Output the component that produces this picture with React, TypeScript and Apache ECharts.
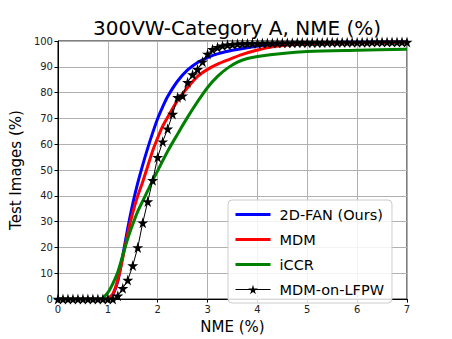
import React, { useEffect, useRef } from "react";
import * as echarts from "echarts";

const xTicks = [0, 1, 2, 3, 4, 5, 6, 7];
const yTicks = [0, 10, 20, 30, 40, 50, 60, 70, 80, 90, 100];

const fanX = [0, 1.0, 1.05, 1.1, 1.2, 1.3, 1.4, 1.5, 1.6, 1.7, 1.8, 1.9, 2.0, 2.1, 2.2, 2.4, 2.6, 2.8, 3.0, 3.2, 3.5, 3.8, 4.3, 5.0, 6.0, 7.0];
const fanY = [0, 0, 0.3, 1.5, 7, 17, 27.5, 37, 45, 52, 58.5, 64.5, 70, 74.5, 78.5, 84.5, 88.8, 91.7, 93.6, 95, 96.4, 97.4, 98.8, 99.3, 99.5, 99.6];

const mdmX = [0, 0.95, 1.0, 1.1, 1.2, 1.3, 1.4, 1.5, 1.6, 1.7, 1.8, 1.9, 2.0, 2.1, 2.2, 2.4, 2.6, 2.8, 3.0, 3.2, 3.4, 3.7, 4.0, 4.3, 5.0, 6.0, 7.0];
const mdmY = [0, 0, 0.3, 2, 7.5, 16, 25.5, 33.5, 40, 45.5, 51.5, 57.5, 62.5, 67, 70.5, 77, 82, 86.3, 89, 91, 92.6, 94.8, 96.5, 97.8, 99, 99.4, 99.5];

const iccrX = [0, 0.85, 0.9, 1.0, 1.1, 1.2, 1.3, 1.4, 1.5, 1.6, 1.7, 1.8, 1.9, 2.0, 2.2, 2.4, 2.6, 2.8, 3.0, 3.2, 3.4, 3.6, 3.8, 4.0, 4.5, 5.0, 6.0, 7.0];
const iccrY = [0, 0, 0.5, 2.5, 6, 10.5, 17, 23.5, 29, 34, 38, 42, 46, 49.8, 57.3, 64, 70.5, 76.5, 82, 86.3, 89.5, 91.8, 93.2, 94, 95.2, 95.9, 96.4, 96.8];

const lfpwX = [
  0, 0.1, 0.2, 0.3, 0.4, 0.5, 0.6, 0.7, 0.8, 0.9, 1.0, 1.1, 1.2, 1.3, 1.4, 1.5, 1.6, 1.7, 1.8, 1.9,
  2.0, 2.1, 2.2, 2.3, 2.4, 2.5, 2.6, 2.7, 2.8, 2.9, 3.0, 3.1, 3.2, 3.3, 3.4, 3.5, 3.6, 3.7, 3.8, 3.9,
  4.0, 4.1, 4.2, 4.3, 4.4, 4.5, 4.6, 4.7, 4.8, 4.9, 5.0, 5.1, 5.2, 5.3, 5.4, 5.5, 5.6, 5.7, 5.8, 5.9,
  6.0, 6.1, 6.2, 6.3, 6.4, 6.5, 6.6, 6.7, 6.8, 6.9, 7.0,
];
const lfpwY = [
  0, 0, 0, 0, 0, 0, 0, 0, 0, 0, 0, 0, 1.3, 4.2, 7.4, 13, 20, 29.6, 37.8, 46,
  55, 61, 66, 71.7, 78.2, 78.8, 84, 87, 89, 92, 95, 96.8, 97.6, 98.2, 98.5, 98.7, 98.9, 99, 99, 99.1,
  99.1, 99.2, 99.2, 99.2, 99.3, 99.3, 99.3, 99.3, 99.4, 99.4, 99.4, 99.4, 99.4, 99.4, 99.5, 99.5, 99.5, 99.5, 99.5, 99.5,
  99.5, 99.5, 99.5, 99.6, 99.6, 99.6, 99.6, 99.6, 99.6, 99.6, 99.6,
];

const seriesNames = ["2D-FAN (Ours)", "MDM", "iCCR", "MDM-on-LFPW"];

const STAR = "path://M50,0 L61,35 L98,35 L68,57 L79,91 L50,70 L21,91 L32,57 L2,35 L39,35 Z";
const FONT = "DejaVu Sans";

function pairs(xs: number[], ys: number[]) {
  return xs.map((x, i) => [x, ys[i]]);
}

export default function App() {
  const ref = useRef<HTMLDivElement>(null);
  useEffect(() => {
    if (!ref.current) return;
    const chart = echarts.init(ref.current, undefined, { renderer: "svg" });
    chart.setOption({
      animation: false,
      backgroundColor: "#fff",
      title: {
        text: "300VW-Category A, NME (%)",
        left: 232,
        top: 13,
        textAlign: "center",
        textStyle: { fontFamily: FONT, fontSize: 20, fontWeight: "normal", color: "#000" },
      },
      grid: {
        left: 57,
        right: 45,
        top: 41,
        bottom: 38,
        show: true,
        borderColor: "#000",
        borderWidth: 1,
        backgroundColor: "transparent",
      },
      xAxis: {
        type: "value",
        min: xTicks[0],
        max: xTicks[xTicks.length - 1],
        interval: 1,
        name: "NME (%)",
        nameLocation: "middle",
        nameGap: 18,
        nameTextStyle: { fontFamily: FONT, fontSize: 15, color: "#000" },
        axisLine: { lineStyle: { color: "#000", width: 1 } },
        axisTick: { show: true, length: 3.5, lineStyle: { color: "#000" } },
        axisLabel: { fontFamily: FONT, fontSize: 10, color: "#222", margin: 5 },
        splitLine: { show: true, lineStyle: { color: "#b0b0b0", width: 1 } },
      },
      yAxis: {
        type: "value",
        min: yTicks[0],
        max: yTicks[yTicks.length - 1],
        interval: 10,
        name: "Test Images (%)",
        nameLocation: "middle",
        nameGap: 31,
        nameTextStyle: { fontFamily: FONT, fontSize: 15, color: "#000" },
        axisLine: { show: true, lineStyle: { color: "#000", width: 1 } },
        axisTick: { show: true, length: 3.5, lineStyle: { color: "#000" } },
        axisLabel: { fontFamily: FONT, fontSize: 10, color: "#222", margin: 5 },
        splitLine: { show: true, lineStyle: { color: "#b0b0b0", width: 1 } },
      },
      legend: {
        orient: "vertical",
        left: 228,
        top: 200,
        padding: [7, 8, 6, 6],
        itemGap: 10,
        itemWidth: 35,
        itemHeight: 12,
        backgroundColor: "rgba(255,255,255,0.85)",
        borderColor: "#cccccc",
        borderWidth: 1,
        borderRadius: 4,
        textStyle: { fontFamily: FONT, fontSize: 14.5, color: "#000", padding: [0, 0, 0, 4] },
        data: [
          { name: seriesNames[0], itemStyle: { opacity: 0 }, lineStyle: { width: 3 } },
          { name: seriesNames[1], itemStyle: { opacity: 0 }, lineStyle: { width: 3 } },
          { name: seriesNames[2], itemStyle: { opacity: 0 }, lineStyle: { width: 3 } },
          { name: seriesNames[3], lineStyle: { width: 1 } },
        ],
      },
      series: [
        {
          name: seriesNames[0],
          type: "line",
          smooth: 0.3,
          symbol: "none",
          data: pairs(fanX, fanY),
          lineStyle: { color: "#0000ff", width: 3 },
          itemStyle: { color: "#0000ff" },
          z: 2,
        },
        {
          name: seriesNames[1],
          type: "line",
          smooth: 0.3,
          symbol: "none",
          data: pairs(mdmX, mdmY),
          lineStyle: { color: "#ff0000", width: 3 },
          itemStyle: { color: "#ff0000" },
          z: 3,
        },
        {
          name: seriesNames[2],
          type: "line",
          smooth: 0.3,
          symbol: "none",
          data: pairs(iccrX, iccrY),
          lineStyle: { color: "#008000", width: 3 },
          itemStyle: { color: "#008000" },
          z: 4,
        },
        {
          name: seriesNames[3],
          type: "line",
          symbol: STAR,
          symbolSize: 11,
          showSymbol: true,
          data: pairs(lfpwX, lfpwY),
          lineStyle: { color: "#000", width: 1 },
          itemStyle: { color: "#000" },
          z: 5,
        },
      ],
    });
    return () => chart.dispose();
  }, []);
  return (
    <div
      ref={ref}
      style={{ position: "fixed", left: 0, top: 0, width: 452, height: 339, background: "#fff" }}
    />
  );
}
